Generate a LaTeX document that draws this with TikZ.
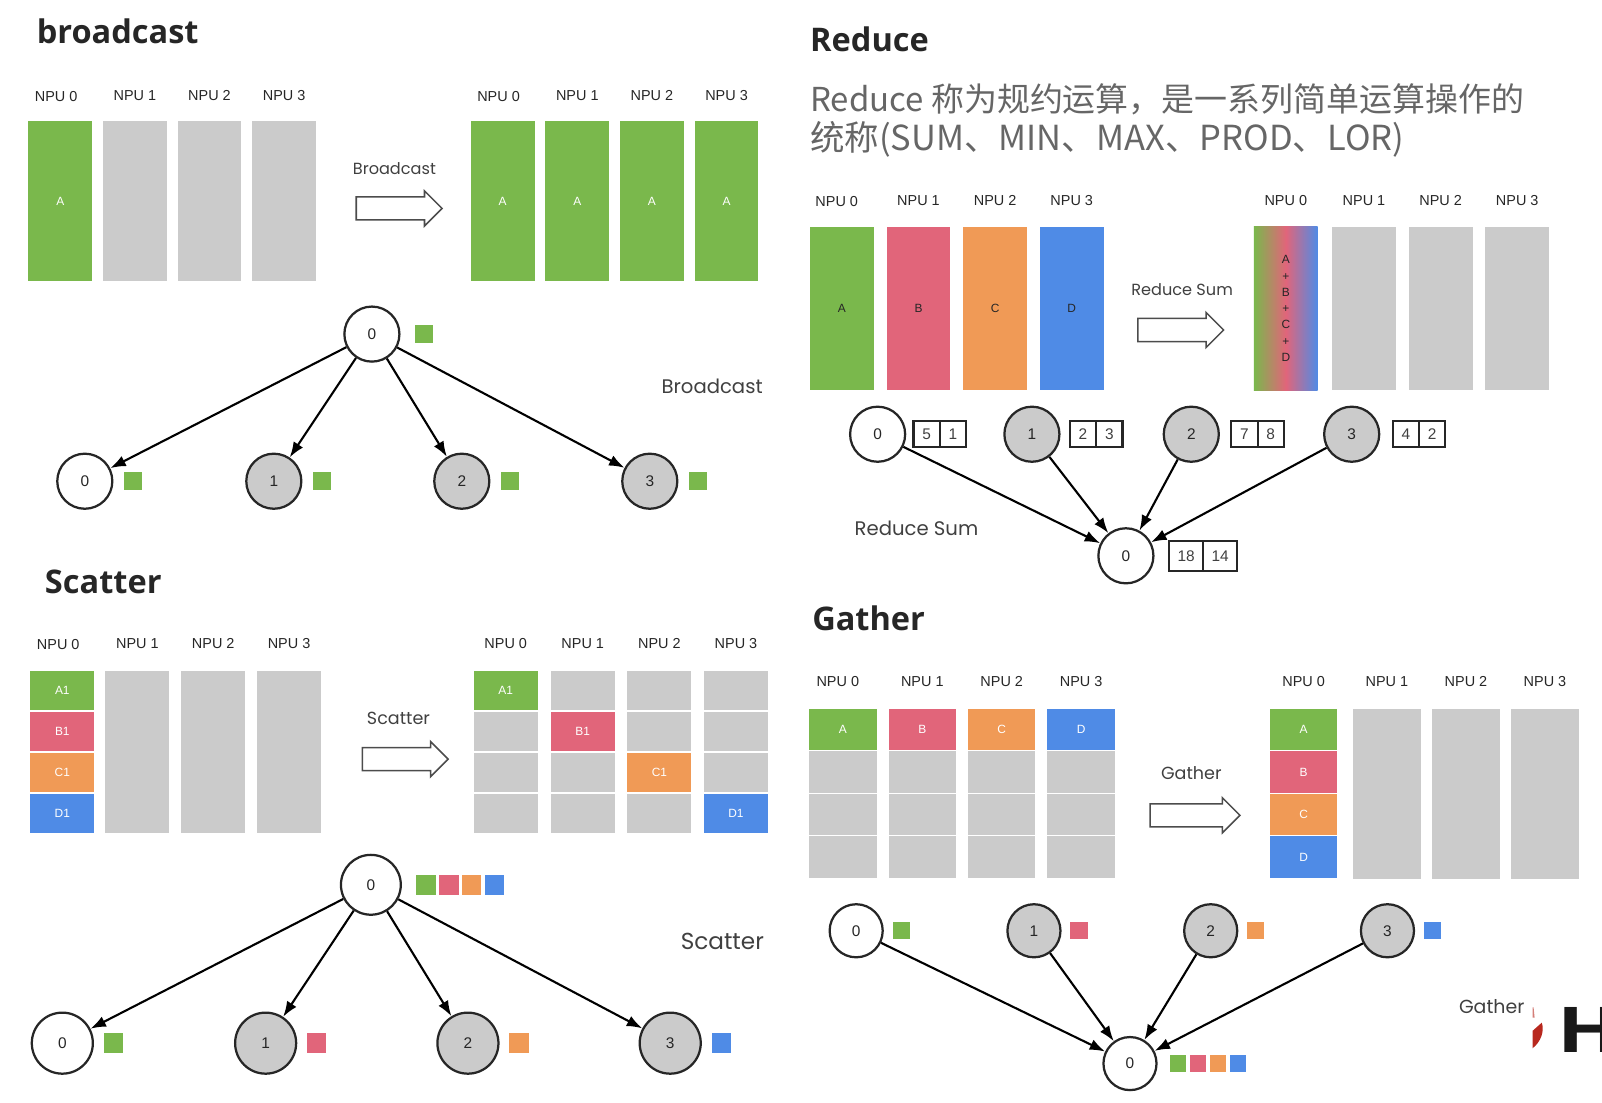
\documentclass[tikz,border=0pt]{standalone}
\usepackage{xcolor}
\usepackage{graphicx}
\usepackage{fontspec}
\usetikzlibrary{arrows.meta,positioning,shapes.arrows}
\setmainfont{Liberation Sans}
\newfontfamily\headfont{Open Sans}
\newfontfamily\handfont{Poppins}
\newfontfamily\cjkfont{Noto Sans CJK SC}
\definecolor{npugreen}{HTML}{7AB84C}
\definecolor{npured}{HTML}{E1657A}
\definecolor{npuorange}{HTML}{F09A56}
\definecolor{npublue}{HTML}{4F8BE6}
\definecolor{npugrey}{HTML}{CBCBCB}
\definecolor{logored}{HTML}{B8281E}
\tikzset{
  heading/.style={anchor=west,inner sep=0pt,text=black!85,font=\headfont\bfseries\fontsize{23.2}{26}\selectfont},
  npu/.style={inner sep=0pt,text=black!85,font=\fontsize{10.3}{12}\selectfont},
  bar/.style={fill=npugrey,inner sep=0pt,minimum width=1.6cm,minimum height=4cm,text=white,font=\fontsize{8.5}{10}\selectfont},
  seg/.style={bar,minimum height=0.975cm},
  gseg/.style={seg,minimum width=1.69cm,minimum height=1.03cm},
  rank/.style={circle,draw=black!85,fill=white,inner sep=0pt,minimum size=1.38cm,text=black!85,line width=1.6pt,font=\fontsize{11}{12}\selectfont},
  rankgrey/.style={rank,fill=npugrey},
  chip/.style={inner sep=0pt,minimum size=0.46cm},
  numbox/.style={draw=black!85,inner sep=0pt,minimum size=0.66cm,text=black!75,font=\fontsize{11}{12}\selectfont},
  handtext/.style={inner sep=0pt,text=black!75,font=\handfont\fontsize{11.5}{13}\selectfont},
  bigtext/.style={handtext,font=\handfont\fontsize{14}{16}\selectfont},
  bigarrow/.style={shape=single arrow,draw=black!70,line width=1.1pt,fill=white,inner xsep=0pt,inner ysep=0.27cm,
    minimum height=2.15cm,single arrow head extend=0.15cm,single arrow head indent=0cm},
}
\begin{document}
\begin{tikzpicture}[x=0.0256cm,y=-0.0256cm,on grid,->,>={Latex[length=11pt,width=8pt]},line width=1.5pt]
   \useasboundingbox (0,0) rectangle (1568,1078.7);
   % broadcast
   \node[heading] (tb) at (35,31) {broadcast};
   \node[bar,fill=npugreen] (ba0) at (59,197) {A};
   \node[bar] (ba1) [right=1.87cm of ba0] {};
   \node[bar] (ba2) [right=1.87cm of ba1] {};
   \node[bar] (ba3) [right=1.87cm of ba2] {};
   \node[bar,fill=npugreen] (bb0) at (492,197) {A};
   \node[bar,fill=npugreen] (bb1) [right=1.87cm of bb0] {A};
   \node[bar,fill=npugreen] (bb2) [right=1.87cm of bb1] {A};
   \node[bar,fill=npugreen] (bb3) [right=1.87cm of bb2] {A};
   \node[npu] (bl0) at (55,94) {NPU 0};
   \node[npu] (bl1) [above=2.66cm of ba1] {NPU 1};
   \node[npu] (bl2) [above=2.66cm of ba2] {NPU 2};
   \node[npu] (bl3) [above=2.66cm of ba3] {NPU 3};
   \node[npu] (bm0) at (488,94) {NPU 0};
   \node[npu] (bm1) [above=2.66cm of bb1] {NPU 1};
   \node[npu] (bm2) [above=2.66cm of bb2] {NPU 2};
   \node[npu] (bm3) [above=2.66cm of bb3] {NPU 3};
   \node[handtext] (bt) at (386,165) {Broadcast};
   \node[bigarrow] (barrow) at (385,204) {};
   \node[rank] (br) at (364,327) {0};
   \node[chip,fill=npugreen] (brc) [right=1.31cm of br] {};
   \node[rank] (b0) at (83,471) {0};
   \node[rankgrey] (b1) at (268,471) {1};
   \node[rankgrey] (b2) at (452,471) {2};
   \node[rankgrey] (b3) at (636,471) {3};
   \node[chip,fill=npugreen] (b0c) [right=1.2cm of b0] {};
   \node[chip,fill=npugreen] (b1c) [right=1.2cm of b1] {};
   \node[chip,fill=npugreen] (b2c) [right=1.2cm of b2] {};
   \node[chip,fill=npugreen] (b3c) [right=1.2cm of b3] {};
   \node[bigtext] (bn) at (697,378) {Broadcast};
   \path
   (br) edge (b0)
        edge (b1)
        edge (b2)
        edge (b3);
   % Reduce
   \node[heading] (tr) at (792,38) {Reduce};
   \node[anchor=west,inner sep=0pt,text=black!60,font=\cjkfont\fontsize{23.5}{28}\selectfont] (rp1) at (792,97) {Reduce 称为规约运算，是一系列简单运算操作的};
   \node[anchor=west,inner sep=0pt,text=black!60,font=\cjkfont\fontsize{24.6}{28}\selectfont] (rp2) at (792,136) {统称(SUM、MIN、MAX、PROD、LOR)};
   \node[bar,minimum height=4.1cm,fill=npugreen,text=black!85] (ra0) at (824,302) {A};
   \node[bar,minimum height=4.1cm,fill=npured,text=black!85] (ra1) [right=1.92cm of ra0] {B};
   \node[bar,minimum height=4.1cm,fill=npuorange,text=black!85] (ra2) [right=1.92cm of ra1] {C};
   \node[bar,minimum height=4.1cm,fill=npublue,text=black!85] (ra3) [right=1.92cm of ra2] {D};
   \node[bar,minimum height=4.1cm,left color=npugreen,right color=npublue,middle color=npured,text=black!85,align=center,font=\fontsize{8.5}{11.6}\selectfont] (rb0) at (1258.5,302) {A\\+\\B\\+\\C\\+\\D};
   \node[bar,minimum height=4.1cm] (rb1) [right=1.96cm of rb0] {};
   \node[bar,minimum height=4.1cm] (rb2) [right=1.92cm of rb1] {};
   \node[bar,minimum height=4.1cm] (rb3) [right=1.92cm of rb2] {};
   \node[npu] (rl0) at (819,197) {NPU 0};
   \node[npu] (rl1) [above=2.7cm of ra1] {NPU 1};
   \node[npu] (rl2) [above=2.7cm of ra2] {NPU 2};
   \node[npu] (rl3) [above=2.7cm of ra3] {NPU 3};
   \node[npu] (rm0) [above=2.7cm of rb0] {NPU 0};
   \node[npu] (rm1) [above=2.7cm of rb1] {NPU 1};
   \node[npu] (rm2) [above=2.7cm of rb2] {NPU 2};
   \node[npu] (rm3) [above=2.7cm of rb3] {NPU 3};
   \node[handtext] (rt) at (1157,283) {Reduce Sum};
   \node[bigarrow] (rarrow) at (1150,323) {};
   \node[rank] (r0) at (859,425) {0};
   \node[rankgrey] (r1) at (1010,425) {1};
   \node[rankgrey] (r2) at (1166,425) {2};
   \node[rankgrey] (r3) at (1323,425) {3};
   \node[rank] (rr) at (1102,544) {0};
   \node[numbox] (n0a) at (907,425) {5};
   \node[numbox] (n0b) [right=0.66cm of n0a] {1};
   \node[numbox] (n1a) at (1060,425) {2};
   \node[numbox] (n1b) [right=0.66cm of n1a] {3};
   \node[numbox] (n2a) at (1218,425) {7};
   \node[numbox] (n2b) [right=0.66cm of n2a] {8};
   \node[numbox] (n3a) at (1376,425) {4};
   \node[numbox] (n3b) [right=0.66cm of n3a] {2};
   \node[numbox,minimum size=0.74cm,minimum width=0.86cm] (nra) at (1161,544) {18};
   \node[numbox,minimum size=0.74cm,minimum width=0.84cm] (nrb) [right=0.85cm of nra] {14};
   \node[bigtext] (rn) at (897,517) {Reduce Sum};
   \path
   (r0) edge (rr)
   (r1) edge (rr)
   (r2) edge (rr)
   (r3) edge (rr);
   % Scatter
   \node[heading] (ts) at (43,570) {Scatter};
   \node[seg,fill=npugreen] (sa0) at (61,676) {A1};
   \node[seg,fill=npured] (sa1) [below=1.024cm of sa0] {B1};
   \node[seg,fill=npuorange] (sa2) [below=1.024cm of sa1] {C1};
   \node[seg,fill=npublue] (sa3) [below=1.024cm of sa2] {D1};
   \node[bar,minimum height=4.05cm] (sg1) at (134.5,736) {};
   \node[bar,minimum height=4.05cm] (sg2) [right=1.9cm of sg1] {};
   \node[bar,minimum height=4.05cm] (sg3) [right=1.9cm of sg2] {};
   \node[seg,fill=npugreen] (s00) at (495,676) {A1};
   \node[seg] (s01) [below=1.024cm of s00] {};
   \node[seg] (s02) [below=1.024cm of s01] {};
   \node[seg] (s03) [below=1.024cm of s02] {};
   \node[seg] (s10) [right=1.93cm of s00] {};
   \node[seg,fill=npured] (s11) [below=1.024cm of s10] {B1};
   \node[seg] (s12) [below=1.024cm of s11] {};
   \node[seg] (s13) [below=1.024cm of s12] {};
   \node[seg] (s20) [right=1.92cm of s10] {};
   \node[seg] (s21) [below=1.024cm of s20] {};
   \node[seg,fill=npuorange] (s22) [below=1.024cm of s21] {C1};
   \node[seg] (s23) [below=1.024cm of s22] {};
   \node[seg] (s30) [right=1.92cm of s20] {};
   \node[seg] (s31) [below=1.024cm of s30] {};
   \node[seg] (s32) [below=1.024cm of s31] {};
   \node[seg,fill=npublue] (s33) [below=1.024cm of s32] {D1};
   \node[npu] (sl0) at (57,630.5) {NPU 0};
   \node[npu] (sl1) [above=2.72cm of sg1] {NPU 1};
   \node[npu] (sl2) [above=2.72cm of sg2] {NPU 2};
   \node[npu] (sl3) [above=2.72cm of sg3] {NPU 3};
   \node[npu] (sm0) [above=1.18cm of s00] {NPU 0};
   \node[npu] (sm1) [above=1.18cm of s10] {NPU 1};
   \node[npu] (sm2) [above=1.18cm of s20] {NPU 2};
   \node[npu] (sm3) [above=1.18cm of s30] {NPU 3};
   \node[handtext,font=\handfont\fontsize{12.5}{14}\selectfont] (st) at (390,703) {Scatter};
   \node[bigarrow] (sarrow) at (391,743) {};
   \node[rank,minimum size=1.5cm] (sr) at (363,866) {0};
   \node[chip,minimum size=0.49cm,fill=npugreen] (src0) at (417,866) {};
   \node[chip,minimum size=0.49cm,fill=npured] (src1) [right=0.57cm of src0] {};
   \node[chip,minimum size=0.49cm,fill=npuorange] (src2) [right=0.57cm of src1] {};
   \node[chip,minimum size=0.49cm,fill=npublue] (src3) [right=0.57cm of src2] {};
   \node[rank,minimum size=1.53cm] (s0) at (61,1021) {0};
   \node[rankgrey,minimum size=1.53cm] (s1) at (260,1021) {1};
   \node[rankgrey,minimum size=1.53cm] (s2) at (458,1021) {2};
   \node[rankgrey,minimum size=1.53cm] (s3) at (656,1021) {3};
   \node[chip,minimum size=0.49cm,fill=npugreen] (s0c) [right=1.28cm of s0] {};
   \node[chip,minimum size=0.49cm,fill=npured] (s1c) [right=1.28cm of s1] {};
   \node[chip,minimum size=0.49cm,fill=npuorange] (s2c) [right=1.28cm of s2] {};
   \node[chip,minimum size=0.49cm,fill=npublue] (s3c) [right=1.28cm of s3] {};
   \node[handtext,font=\handfont\fontsize{16.5}{18}\selectfont] (sn) at (707,921) {Scatter};
   \path
   (sr) edge (s0)
        edge (s1)
        edge (s2)
        edge (s3);
   % Gather
   \node[heading] (tg) at (794,605) {Gather};
   \node[gseg,fill=npugreen] (g00) at (825,714) {A};
   \node[gseg] (g01) [below=1.065cm of g00] {};
   \node[gseg] (g02) [below=1.065cm of g01] {};
   \node[gseg] (g03) [below=1.065cm of g02] {};
   \node[gseg,fill=npured] (g10) [right=1.99cm of g00] {B};
   \node[gseg] (g11) [below=1.065cm of g10] {};
   \node[gseg] (g12) [below=1.065cm of g11] {};
   \node[gseg] (g13) [below=1.065cm of g12] {};
   \node[gseg,fill=npuorange] (g20) [right=1.99cm of g10] {C};
   \node[gseg] (g21) [below=1.065cm of g20] {};
   \node[gseg] (g22) [below=1.065cm of g21] {};
   \node[gseg] (g23) [below=1.065cm of g22] {};
   \node[gseg,fill=npublue] (g30) [right=1.99cm of g20] {D};
   \node[gseg] (g31) [below=1.065cm of g30] {};
   \node[gseg] (g32) [below=1.065cm of g31] {};
   \node[gseg] (g33) [below=1.065cm of g32] {};
   \node[gseg,fill=npugreen] (h0) at (1276,714) {A};
   \node[gseg,fill=npured] (h1) [below=1.065cm of h0] {B};
   \node[gseg,fill=npuorange] (h2) [below=1.065cm of h1] {C};
   \node[gseg,fill=npublue] (h3) [below=1.065cm of h2] {D};
   \node[bar,minimum width=1.69cm,minimum height=4.25cm] (gg1) at (1357.5,777) {};
   \node[bar,minimum width=1.69cm,minimum height=4.25cm] (gg2) [right=1.98cm of gg1] {};
   \node[bar,minimum width=1.69cm,minimum height=4.25cm] (gg3) [right=1.98cm of gg2] {};
   \node[npu] (gl0) at (820,667.5) {NPU 0};
   \node[npu] (gl1) [above=1.2cm of g10] {NPU 1};
   \node[npu] (gl2) [above=1.2cm of g20] {NPU 2};
   \node[npu] (gl3) [above=1.2cm of g30] {NPU 3};
   \node[npu] (gm0) [above=1.2cm of h0] {NPU 0};
   \node[npu] (gm1) [above=2.82cm of gg1] {NPU 1};
   \node[npu] (gm2) [above=2.82cm of gg2] {NPU 2};
   \node[npu] (gm3) [above=2.82cm of gg3] {NPU 3};
   \node[handtext,font=\handfont\fontsize{12.5}{14}\selectfont] (gt) at (1166,757) {Gather};
   \node[bigarrow,minimum height=2.25cm] (garrow) at (1164,798) {};
   \node[rank,minimum size=1.33cm] (g0) at (838,911) {0};
   \node[rankgrey,minimum size=1.33cm] (g1) at (1012,911) {1};
   \node[rankgrey,minimum size=1.33cm] (g2) at (1185,911) {2};
   \node[rankgrey,minimum size=1.33cm] (g3) at (1358,911) {3};
   \node[rank,minimum size=1.33cm] (gr) at (1106,1041) {0};
   \node[chip,minimum size=0.43cm,fill=npugreen] (g0c) [right=1.13cm of g0] {};
   \node[chip,minimum size=0.43cm,fill=npured] (g1c) [right=1.13cm of g1] {};
   \node[chip,minimum size=0.43cm,fill=npuorange] (g2c) [right=1.13cm of g2] {};
   \node[chip,minimum size=0.43cm,fill=npublue] (g3c) [right=1.13cm of g3] {};
   \node[chip,minimum size=0.41cm,fill=npugreen] (grc0) at (1153,1041) {};
   \node[chip,minimum size=0.41cm,fill=npured] (grc1) [right=0.5cm of grc0] {};
   \node[chip,minimum size=0.41cm,fill=npuorange] (grc2) [right=0.5cm of grc1] {};
   \node[chip,minimum size=0.41cm,fill=npublue] (grc3) [right=0.5cm of grc2] {};
   \node[handtext,font=\handfont\fontsize{13.5}{16}\selectfont] (gn) at (1460,985) {Gather};
   \path
   (g0) edge (gr)
   (g1) edge (gr)
   (g2) edge (gr)
   (g3) edge (gr);
   % cut off logo
   \node[anchor=west,inner sep=0pt,text=black!90,font=\headfont\bfseries\fontsize{45}{50}\selectfont] (logo) at (1523,1008) {\scalebox{1.3}[1]{H}};
   \fill[logored,-] (1500,1009) -- (1509,1001) .. controls (1512,1009) and (1508,1020) .. (1500,1026) -- cycle;
   \fill[logored!60,-] (1500,986) -- (1501,986) -- (1502,996) -- (1500,996) -- cycle;
\end{tikzpicture}
\end{document}
